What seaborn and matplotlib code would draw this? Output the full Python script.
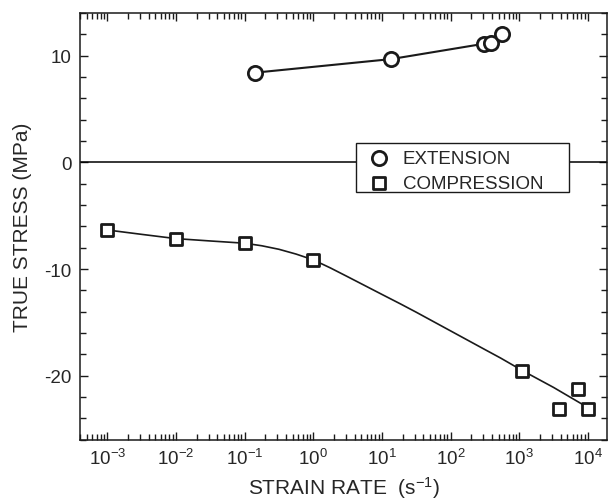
import numpy as np
import pandas as pd
import matplotlib
matplotlib.use("Agg")
import matplotlib.pyplot as plt
from matplotlib.patches import Rectangle
from matplotlib.ticker import FixedLocator, LogLocator, MultipleLocator, LogFormatterSciNotation, NullFormatter
import seaborn as sns

# ---- data ----
ext_rate = [0.143, 13.6, 308, 394, 552]
ext_stress = [8.41, 9.68, 11.12, 11.21, 12.05]

comp_rate = [1e-3, 1e-2, 1e-1, 1.0, 1100, 3760, 7200, 10000]
comp_stress = [-6.34, -7.15, -7.58, -9.14, -19.55, -23.13, -21.2, -23.13]

# fitted curve through compression data, log10 of rate
fit_log_rate = [-3.0, -2.5, -2.0, -1.5, -1.0, -0.75, -0.5, -0.25, 0.0, 0.25, 0.5,
                0.75, 1.0, 1.27, 1.5, 2.0, 2.5, 2.73, 3.04, 3.5, 3.94]
fit_stress = [-6.34, -6.75, -7.15, -7.37, -7.58, -7.82, -8.15, -8.6, -9.14, -9.9,
              -10.72, -11.55, -12.38, -13.27, -14.05, -15.8, -17.55, -18.35, -19.5,
              -21.1, -22.76]

x_ticks = [1e-3, 1e-2, 1e-1, 1e0, 1e1, 1e2, 1e3, 1e4]

sns.set_style("ticks")
plt.rcParams["font.family"] = ["Liberation Sans", "DejaVu Sans"]
plt.rcParams["mathtext.fontset"] = "custom"
plt.rcParams["mathtext.rm"] = "Liberation Sans"
plt.rcParams["mathtext.it"] = "Liberation Sans"
plt.rcParams["mathtext.default"] = "regular"
plt.rcParams["axes.unicode_minus"] = False

fig = plt.figure(figsize=(6.08, 5.02), dpi=100)
ax = fig.add_axes([0.1316, 0.1221, 0.8668, 0.8500])

ext_df = pd.DataFrame({"rate": ext_rate, "stress": ext_stress})
comp_df = pd.DataFrame({"rate": comp_rate, "stress": comp_stress})
fit_df = pd.DataFrame({"rate": np.power(10.0, fit_log_rate), "stress": fit_stress})

ax.axhline(0, color="black", lw=1.1, zorder=1)

sns.lineplot(data=ext_df, x="rate", y="stress", ax=ax, color="#1a1a1a", lw=1.5,
             sort=True, estimator=None, zorder=2)
sns.lineplot(data=fit_df, x="rate", y="stress", ax=ax, color="#1a1a1a", lw=1.2,
             sort=True, estimator=None, zorder=2)

sns.scatterplot(data=ext_df, x="rate", y="stress", ax=ax, marker="o", s=105,
                facecolor="white", edgecolor="#1a1a1a", linewidth=2.0,
                label="EXTENSION", zorder=3)
sns.scatterplot(data=comp_df, x="rate", y="stress", ax=ax, marker="s", s=72,
                facecolor="white", edgecolor="#1a1a1a", linewidth=2.0,
                label="COMPRESSION", zorder=3)

ax.set_xscale("log")
ax.set_xlim(4e-4, 1.9e4)
ax.set_ylim(-26, 14)

ax.xaxis.set_major_locator(FixedLocator(x_ticks))
ax.xaxis.set_minor_locator(LogLocator(base=10, subs=np.arange(2, 10), numticks=20))
ax.xaxis.set_major_formatter(LogFormatterSciNotation())
ax.xaxis.set_minor_formatter(NullFormatter())
ax.yaxis.set_major_locator(MultipleLocator(10))
ax.yaxis.set_minor_locator(MultipleLocator(2))

ax.tick_params(which="both", direction="in", top=True, right=True, labelsize=13.5,
               color="#1a1a1a", width=1.0)
ax.tick_params(which="major", length=6)
ax.tick_params(which="minor", length=4)
ax.tick_params(axis="x", which="major", pad=6)
ax.tick_params(axis="y", which="major", pad=6)

for sp in ax.spines.values():
    sp.set_visible(True)
    sp.set_linewidth(1.1)
    sp.set_color("#1a1a1a")

ax.set_xlabel("STRAIN RATE  (s$^{-1}$)", fontsize=15, labelpad=4)
ax.set_ylabel("TRUE STRESS (MPa)", fontsize=15, labelpad=9)

# legend frame (white box that hides the zero line)
ax.add_patch(Rectangle((0.5237, 0.5798), 0.4042, 0.1155, transform=ax.transAxes,
                       facecolor="white", edgecolor="#1a1a1a", lw=1.0, zorder=4,
                       clip_on=False))
leg = ax.legend(loc="upper left", bbox_to_anchor=(0.5495, 0.680), frameon=False,
                fontsize=13.5, handletextpad=0.78, borderpad=0.0, labelspacing=0.42,
                borderaxespad=0, handlelength=1.0)
leg.set_zorder(5)

fig.savefig("out.png", dpi=100)
